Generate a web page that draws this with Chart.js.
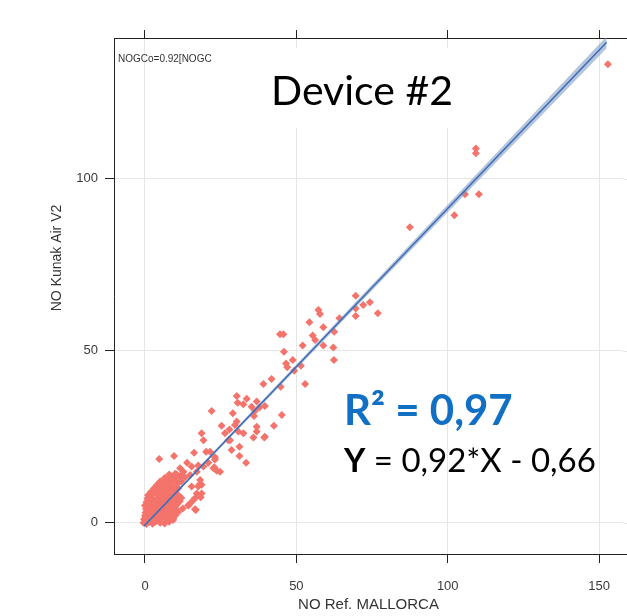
<!DOCTYPE html>
<html>
<head>
<meta charset="utf-8">
<script src="https://cdn.jsdelivr.net/npm/chart.js@4.4.1/dist/chart.umd.min.js"></script>
<style>
  html, body { margin: 0; padding: 0; background: #fff; }
  #wrap { width: 627px; height: 616px; position: relative; }
</style>
</head>
<body>
<div id="wrap"><canvas id="noChart"></canvas></div>
<script>
// valores (NO referencia x NO Kunak)
const xTicks = [0, 50, 100, 150];
const yTicks = [0, 50, 100];

// nuvem densa perto da origem
const clusterX = [-0.5, 0.5, 1.5, 2.5, 3.5, 5, 6.5, 8,
  -0.3, 1, 2, 3, 4.2, 5.5, 7, 9.3,
  0, 1.2, 2.5, 3.5, 4.5, 6, 7.2, 8.5, 10,
  0.2, 1.5, 2.8, 4, 5, 6.3, 7.8, 9, 11,
  0.3, 1.8, 3, 4.3, 5.5, 7, 8.5, 10, 12.5,
  0, 1.5, 3.2, 4.8, 6, 7.5, 9, 10.5, 14.3,
  0.5, 2, 3.5, 5, 6.5, 8, 9.5, 11.5,
  0.8, 2.2, 4, 5.5, 7, 8.5, 10, 12,
  1, 2.5, 4.3, 6, 7.5, 9, 11,
  2, 3.5, 5, 6.5, 8, 10,
  3, 4.5, 6, 7.5, 9, 11,
  4, 5.5, 7, 8.5, 10.5,
  5, 6.5, 8, 10, 12,
  6.5, 8, 9.5, 11.5,
  8, 10, 12];
const clusterY = [0, -0.4, 0.2, -0.3, 0.3, 0, -0.2, 0.3,
  1, 1.2, 0.8, 1.1, 0.9, 1.3, 1, 1.2,
  2, 2.2, 1.8, 2.1, 2.3, 1.9, 2, 2.2, 2.1,
  3, 3.2, 2.9, 3.1, 3.3, 2.8, 3, 3.2, 3.1,
  4, 4.2, 3.9, 4.1, 4.3, 3.8, 4, 4.2, 4.1,
  5, 5.2, 4.9, 5.1, 5.3, 4.8, 5, 5.2, 5,
  6, 6.2, 5.9, 6.1, 6.3, 5.8, 6, 6.2,
  7, 7.2, 6.9, 7.1, 7.3, 6.8, 7, 7.2,
  8, 8.2, 7.9, 8.1, 8.3, 7.8, 8,
  9, 9.2, 8.9, 9.1, 9.3, 9,
  10, 10.2, 9.9, 10.1, 10.3, 10,
  11, 11.2, 10.9, 11.1, 11.2,
  12, 12.2, 11.9, 12.1, 12,
  13, 13.2, 12.9, 13.1,
  14, 14.2, 13.9];

// pontos intermediarios (0 a 45)
const lowX = [30.3, 33.6, 30.6, 32.5, 36.9, 35.2, 37.8, 39.6, 36.3, 22.0, 29.0, 36.0, 45.2, 25.3, 29.7,
  36.9, 42.6, 27.9, 26.4, 32.5, 39.6, 18.7, 30.3, 19.3, 27.5, 35.8, 39.4, 4.7, 9.6, 16.2,
  20.2, 23.1, 28.6, 31.2, 31.2, 33.4, 22.9, 23.7, 17.9, 17.1, 18.4, 16.8, 14.3, 9.3, 7.2,
  17.6, 22.6, 18.2, 18.7, 16.5, 14.9, 16.5, 28.1, 21.5, 23.1, 20.9, 19.3, 24.8, 14.9, 13.2,
  17.1, 12.7, 15.4, 17.6, 18.7, 15.4, 16.0, 30.8, 36.9, 11.6, 10.5, 9.0, 13.9];
const lowY = [36.8, 36.0, 34.9, 34.4, 35.2, 33.7, 33.5, 33.9, 32.5, 32.5, 31.8, 31.0, 31.3, 28.2, 28.4,
  27.9, 28.2, 27.1, 26.0, 26.0, 25.0, 26.0, 29.4, 24.0, 24.0, 24.8, 24.8, 18.5, 19.4, 20.3,
  20.6, 19.0, 21.1, 22.1, 19.4, 17.4, 16.1, 15.1, 11.0, 8.5, 7.4, 3.7, 5.1, 0.8, 1.6,
  16.6, 15.8, 12.4, 8.5, 7.1, 5.6, 3.9, 24.0, 20.6, 18.4, 17.4, 16.3, 14.8, 13.9, 13.2,
  14.8, 14.8, 16.3, 10.5, 11.0, 10.5, 6.6, 26.5, 26.5, 15.8, 14.0, 13.0, 17.4];

// pontos de 40 a 80
const midX = [69.6, 74.3, 72.1, 76.9, 69.6, 69.6, 64.2, 57.3, 57.8, 54.3, 58.9, 62.5, 55.4, 56.2, 58.9,
  62.2, 52.1, 62.4, 44.6, 45.7, 45.9, 48.8, 46.6, 47.0, 51.5, 52.9, 49.3, 41.8, 39.1, 44.8];
const midY = [66.0, 64.1, 63.3, 60.9, 62.3, 60.1, 59.4, 61.8, 60.7, 58.3, 56.8, 55.5, 54.4, 53.1, 51.5,
  50.9, 51.5, 47.3, 54.8, 54.8, 49.7, 47.3, 46.3, 45.2, 45.6, 40.3, 44.2, 41.8, 40.3, 39.5];

// pontos altos
const highX = [152.9, 109.3, 109.3, 105.7, 110.3, 87.5, 102.2];
const highY = [133.3, 108.8, 107.4, 95.5, 95.5, 85.9, 89.4];

// reta de regressao e faixa de confianca
const fitX = [-0.3, 20, 50, 80, 110, 152.5];
const fitY = [-0.94, 17.74, 45.34, 72.94, 100.54, 139.64];
const bandLow = [-1.3, 17.3, 44.7, 72.1, 99.3, 137.9];
const bandHigh = [-0.6, 18.2, 46.0, 73.8, 101.8, 141.4];

const toXY = (xs, ys) => xs.map((x, i) => ({ x: x, y: ys[i] }));
const scatterData = [].concat(
  toXY(clusterX, clusterY), toXY(lowX, lowY), toXY(midX, midY), toXY(highX, highY)
);

const axisFont = { family: 'Liberation Sans, Arial, sans-serif', size: 13 };
const noPad = (s) => { s.paddingLeft = 0; s.paddingRight = 0; };
// os pontos deixam ~4px livres a direita, por isso o max fica menor
const xMin = -10.24;
const xMax = 157.9;

// textos por cima do grafico
const annotations = {
  id: 'annotations',
  beforeDatasetsDraw(chart) {
    const ctx = chart.ctx;
    const area = chart.chartArea;
    ctx.save();
    ctx.font = '10px "Liberation Sans", Arial, sans-serif';
    ctx.fillStyle = '#333';
    ctx.textBaseline = 'middle';
    ctx.fillText('NOGCo=0.92[NOGC', 118, 59);
    // caixa branca do titulo
    ctx.fillStyle = '#fff';
    ctx.fillRect(215, 48, 265, 80);
    // linhas de grade e bordas ate o fim do quadro
    ctx.lineWidth = 1;
    ctx.strokeStyle = '#e6e6e6';
    ctx.beginPath();
    yTicks.forEach(v => {
      const py = Math.round(chart.scales.y.getPixelForValue(v)) + 0.5;
      ctx.moveTo(area.right, py);
      ctx.lineTo(627, py);
    });
    ctx.stroke();
    ctx.strokeStyle = '#222';
    ctx.beginPath();
    ctx.moveTo(area.right - 1, area.top + 0.5);
    ctx.lineTo(627, area.top + 0.5);
    ctx.moveTo(area.right - 1, area.bottom + 0.5);
    ctx.lineTo(627, area.bottom + 0.5);
    ctx.stroke();
    ctx.restore();
  },
  afterDraw(chart) {
    const ctx = chart.ctx;
    ctx.save();
    ctx.textBaseline = 'alphabetic';
    ctx.fillStyle = '#000';
    ctx.font = '41px Lato, sans-serif';
    ctx.fillText('Device #2', 271, 105);

    ctx.fillStyle = '#1170C4';
    ctx.font = 'bold 42px Lato, sans-serif';
    ctx.fillText('R² = 0,97', 344, 425);

    ctx.fillStyle = '#000';
    ctx.font = 'bold 33px Lato, sans-serif';
    ctx.fillText('Y', 344, 472);
    const w = ctx.measureText('Y').width;
    ctx.font = '33px Lato, sans-serif';
    ctx.fillText(' = 0,92*X - 0,66', 344 + w, 472);

    // titulo do eixo y
    ctx.translate(57, 258);
    ctx.rotate(-Math.PI / 2);
    ctx.textAlign = 'center';
    ctx.textBaseline = 'middle';
    ctx.font = '14px "Liberation Sans", Arial, sans-serif';
    ctx.fillStyle = '#333';
    ctx.fillText('NO Kunak Air V2', 0, 0);
    ctx.restore();
  }
};

const ctx = document.getElementById('noChart').getContext('2d');
const noChart = new Chart(ctx, {
  type: 'scatter',
  data: {
    datasets: [
      {
        type: 'line',
        label: 'Ajuste',
        data: toXY(fitX, fitY),
        borderColor: '#3D6BB8',
        borderWidth: 1.5,
        pointRadius: 0,
        fill: false
      },
      {
        type: 'line',
        label: 'IC sup',
        data: toXY(fitX, bandHigh),
        borderWidth: 0,
        pointRadius: 0,
        backgroundColor: 'rgba(120,150,190,0.55)',
        fill: '+1'
      },
      {
        type: 'line',
        label: 'IC inf',
        data: toXY(fitX, bandLow),
        borderWidth: 0,
        pointRadius: 0,
        fill: false
      },
      {
        label: 'NO',
        data: scatterData,
        pointStyle: 'rectRot',
        pointRadius: 4,
        pointBackgroundColor: '#F4736B',
        pointBorderWidth: 0,
        borderWidth: 0
      }
    ]
  },
  options: {
    responsive: true,
    maintainAspectRatio: false,
    animation: false,
    devicePixelRatio: 1,
    layout: { padding: 0 },
    plugins: {
      legend: { display: false },
      tooltip: { enabled: false }
    },
    scales: {
      x: {
        type: 'linear',
        position: 'bottom',
        min: xMin,
        max: xMax,
        afterBuildTicks: (s) => { s.ticks = xTicks.map(v => ({ value: v })); },
        afterFit: (s) => { s.height = 62; noPad(s); },
        grid: { color: '#e6e6e6', tickColor: '#222', tickLength: 9 },
        border: { color: '#222', width: 1 },
        ticks: { font: axisFont, color: '#3a3a3a', padding: 16, maxRotation: 0 },
        title: {
          display: true,
          text: 'NO Ref. MALLORCA',
          font: { family: 'Liberation Sans, Arial, sans-serif', size: 15 },
          color: '#333',
          padding: { top: 0, bottom: 2 }
        }
      },
      x2: {
        type: 'linear',
        position: 'top',
        min: xMin,
        max: xMax,
        afterBuildTicks: (s) => { s.ticks = xTicks.map(v => ({ value: v })); },
        afterFit: (s) => { s.height = 38; noPad(s); },
        grid: { drawOnChartArea: false, tickColor: '#222', tickLength: 8 },
        border: { color: '#222', width: 1 },
        ticks: { display: false }
      },
      y: {
        type: 'linear',
        position: 'left',
        min: -9.1,
        max: 140.9,
        afterBuildTicks: (s) => { s.ticks = yTicks.map(v => ({ value: v })); },
        afterFit: (s) => { s.width = 114; s.paddingTop = 0; s.paddingBottom = 0; },
        grid: { color: '#e6e6e6', tickColor: '#222', tickLength: 9 },
        border: { color: '#222', width: 1 },
        ticks: { font: axisFont, color: '#3a3a3a', padding: 7 }
      }
    }
  },
  plugins: [annotations]
});
</script>
</body>
</html>
